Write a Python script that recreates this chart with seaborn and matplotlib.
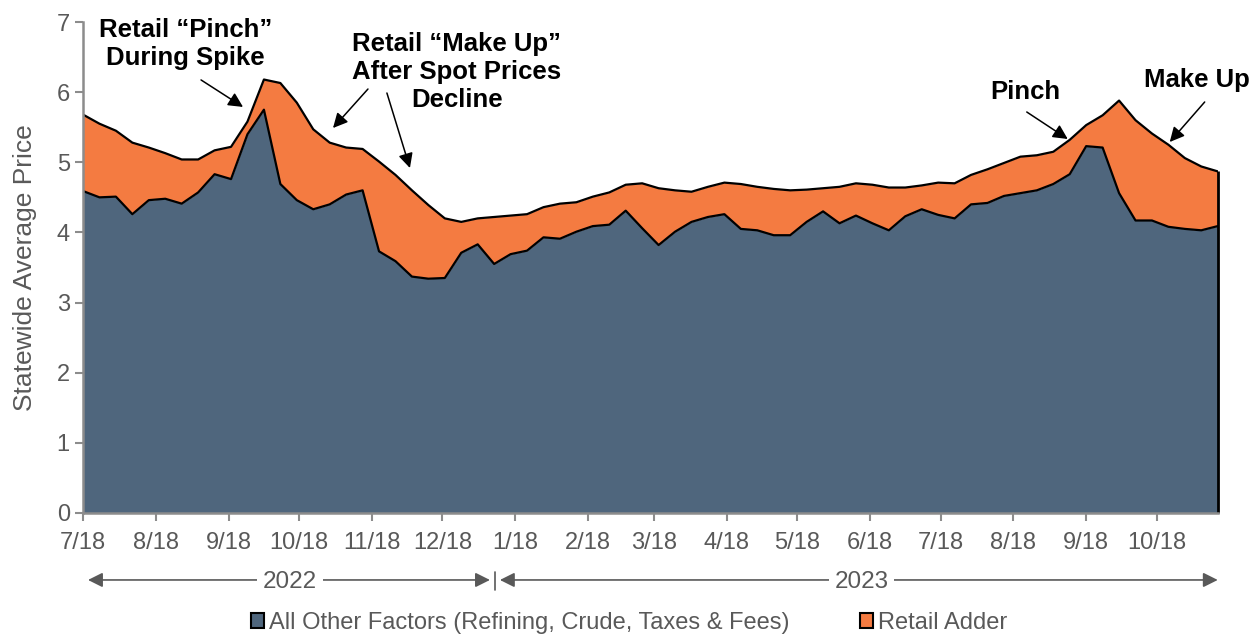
import numpy as np
import pandas as pd
import seaborn as sns
import matplotlib.pyplot as plt
from matplotlib.patches import Patch

# datos semanales (lectura aproximada del grafico)
fechas = pd.date_range("2022-07-18", periods=70, freq="7D")

otros = [4.59, 4.50, 4.51, 4.26, 4.46, 4.48, 4.41, 4.57, 4.83, 4.76,
         5.40, 5.75, 4.69, 4.46, 4.33, 4.40, 4.54, 4.60, 3.73, 3.59,
         3.37, 3.34, 3.35, 3.71, 3.83, 3.55, 3.69, 3.74, 3.93, 3.91,
         4.01, 4.09, 4.11, 4.31, 4.06, 3.82, 4.01, 4.15, 4.22, 4.26,
         4.05, 4.03, 3.96, 3.96, 4.15, 4.30, 4.13, 4.24, 4.13, 4.03,
         4.23, 4.33, 4.25, 4.20, 4.40, 4.42, 4.52, 4.56, 4.60, 4.69,
         4.83, 5.23, 5.21, 4.56, 4.17, 4.17, 4.08, 4.05, 4.03, 4.09]

adder = [1.09, 1.05, 0.94, 1.02, 0.75, 0.65, 0.63, 0.47, 0.34, 0.46,
         0.18, 0.43, 1.44, 1.39, 1.14, 0.88, 0.67, 0.59, 1.28, 1.23,
         1.23, 1.05, 0.85, 0.44, 0.37, 0.67, 0.55, 0.52, 0.43, 0.50,
         0.42, 0.42, 0.46, 0.37, 0.64, 0.81, 0.59, 0.43, 0.43, 0.45,
         0.64, 0.62, 0.66, 0.64, 0.46, 0.33, 0.52, 0.46, 0.55, 0.61,
         0.41, 0.34, 0.46, 0.50, 0.42, 0.48, 0.47, 0.52, 0.50, 0.46,
         0.49, 0.30, 0.46, 1.32, 1.43, 1.24, 1.17, 1.01, 0.91, 0.78]

tick_fechas = pd.to_datetime([
    "2022-07-18", "2022-08-18", "2022-09-18", "2022-10-18", "2022-11-18",
    "2022-12-18", "2023-01-18", "2023-02-18", "2023-03-18", "2023-04-18",
    "2023-05-18", "2023-06-18", "2023-07-18", "2023-08-18", "2023-09-18",
    "2023-10-18"])
tick_labels = ["7/18", "8/18", "9/18", "10/18", "11/18", "12/18", "1/18", "2/18",
               "3/18", "4/18", "5/18", "6/18", "7/18", "8/18", "9/18", "10/18"]

series = ["All Other Factors (Refining, Crude, Taxes & Fees)", "Retail Adder"]
colores = ["#4F667D", "#F47B41"]
gris = "#595959"

sns.set_theme(style="white")
plt.rcParams["font.family"] = ["Liberation Sans", "DejaVu Sans"]

df = pd.DataFrame({"fecha": fechas, "otros": otros, "adder": adder})
df["total"] = df["otros"] + df["adder"]

fig, ax = plt.subplots(figsize=(12.58, 6.38), dpi=100)
fig.subplots_adjust(left=0.066, right=0.968, top=0.9655, bottom=0.196)

ax.fill_between(df["fecha"], 0, df["otros"], color=colores[0], lw=0)
ax.fill_between(df["fecha"], df["otros"], df["total"], color=colores[1], lw=0)
sns.lineplot(data=df, x="fecha", y="otros", color="black", lw=1.6, ax=ax)
sns.lineplot(data=df, x="fecha", y="total", color="black", lw=1.6, ax=ax)
ax.vlines(df["fecha"].iloc[-1], 0, df["total"].iloc[-1], color="black", lw=2, clip_on=False)

ax.set_xlim(df["fecha"].iloc[0], df["fecha"].iloc[-1])
ax.set_ylim(0, 7)
ax.set_yticks(range(8))
ax.set_xticks(tick_fechas)
ax.set_xticklabels(tick_labels)
ax.set_xlabel("")
ax.set_ylabel("Statewide Average Price", fontsize=19, color=gris, labelpad=14)
ax.tick_params(axis="both", colors="#8c8c8c", labelcolor=gris, labelsize=17,
               direction="out", length=6, width=1.5, left=True, bottom=True)
ax.tick_params(axis="x", pad=8)
for lado in ["top", "right"]:
    ax.spines[lado].set_visible(False)
for lado in ["left", "bottom"]:
    ax.spines[lado].set_color("#8c8c8c")
    ax.spines[lado].set_linewidth(1.8)
    ax.spines[lado].set_zorder(5)

# anotaciones
txt = dict(ha="center", va="center", fontsize=18.5, fontweight="bold",
           color="black", transform=ax.transAxes, linespacing=1.2)
flecha = dict(arrowstyle="-|>", color="black", lw=1.1, mutation_scale=22,
              shrinkA=0, shrinkB=0)
ax.text(0.090, 0.956, "Retail \u201cPinch\u201d\nDuring Spike", **txt)
ax.text(0.3295, 0.898, "Retail \u201cMake Up\u201d\nAfter Spot Prices\nDecline", **txt)
ax.text(0.830, 0.857, "Pinch", **txt)
ax.text(0.9815, 0.882, "Make Up", **txt)
for cola, punta in [((0.104, 0.882), (0.141, 0.827)),
                    ((0.2511, 0.8635), (0.2203, 0.7841)),
                    ((0.2678, 0.8554), (0.2881, 0.7026)),
                    ((0.8317, 0.8167), (0.8678, 0.7617)),
                    ((0.9885, 0.8371), (0.9577, 0.7556))]:
    ax.annotate("", xy=punta, xytext=cola, xycoords="axes fraction",
                textcoords="axes fraction", arrowprops=flecha)

# flechas de los años
anio = dict(arrowstyle="<|-|>", color=gris, lw=1.2, mutation_scale=22,
            shrinkA=0, shrinkB=0)
ax.annotate("", xy=(0.0044, -0.1365), xytext=(0.3586, -0.1365),
            xycoords="axes fraction", arrowprops=anio, annotation_clip=False)
ax.annotate("", xy=(0.3674, -0.1365), xytext=(1.0, -0.1365),
            xycoords="axes fraction", arrowprops=anio, annotation_clip=False)
ax.plot([0.363, 0.363], [-0.120, -0.157], color=gris, lw=1.2,
        transform=ax.transAxes, clip_on=False)
caja = dict(facecolor="white", edgecolor="none", pad=4)
ax.text(0.1824, -0.1405, "2022", ha="center", va="center", fontsize=17.5,
        color=gris, transform=ax.transAxes, bbox=caja)
ax.text(0.6863, -0.1405, "2023", ha="center", va="center", fontsize=17.5,
        color=gris, transform=ax.transAxes, bbox=caja)

handles = [Patch(facecolor=c, edgecolor="black", lw=1.5) for c in colores]
leg = fig.legend(handles, series, loc="center", bbox_to_anchor=(0.5, 0.024),
                 ncol=2, frameon=False, fontsize=17, handlelength=0.55,
                 handleheight=0.6, handletextpad=0.2, columnspacing=3.0,
                 borderpad=0.1)
for t in leg.get_texts():
    t.set_color(gris)

fig.savefig("out.png", dpi=100)
